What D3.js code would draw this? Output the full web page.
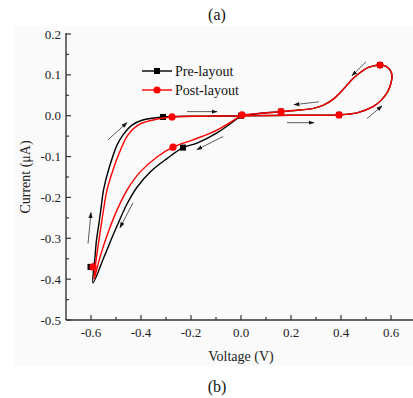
<!DOCTYPE html>
<html><head><meta charset="utf-8">
<script src="https://cdn.jsdelivr.net/npm/d3@7"></script>
<style>
html,body{margin:0;padding:0;background:#fff;}
svg{display:block;font-family:"Liberation Serif","Times New Roman",serif;}
</style></head>
<body>
<svg id="chart" width="413" height="398"></svg>
<script>
// ---- data (Voltage V, Current µA) ----
const loopV = [0.196,0.392,0.464,0.528,0.564,0.588,0.600,0.604,0.596,0.580,0.556,0.530,0.505,0.480,0.448,0.408,0.368,0.330,0.290,0.236,0.160,0.080];
const loopI = [0.001,0.002,0.007,0.022,0.040,0.060,0.080,0.097,0.112,0.121,0.124,0.122,0.117,0.107,0.091,0.064,0.040,0.026,0.018,0.014,0.010,0.006];
const preV = [0.000,-0.096,-0.176,-0.232,-0.296,-0.360,-0.416,-0.456,-0.496,-0.520,-0.548,-0.592,-0.584,-0.578,-0.568,-0.559,-0.550,-0.530,-0.496,-0.472,-0.436,-0.396,-0.312,-0.150,0.000].concat(loopV,[0.000]);
const preI = [0.000,-0.042,-0.067,-0.078,-0.105,-0.136,-0.175,-0.216,-0.270,-0.304,-0.346,-0.409,-0.346,-0.304,-0.263,-0.222,-0.182,-0.133,-0.072,-0.047,-0.023,-0.011,-0.003,-0.001,0.000].concat(loopI,[0.000]);
const postV = [0.004,-0.096,-0.192,-0.272,-0.336,-0.404,-0.456,-0.496,-0.528,-0.564,-0.588,-0.578,-0.568,-0.558,-0.536,-0.512,-0.482,-0.452,-0.412,-0.356,-0.276,-0.136,0.000].concat(loopV,[0.004]);
const postI = [0.002,-0.035,-0.059,-0.077,-0.101,-0.138,-0.182,-0.231,-0.280,-0.346,-0.400,-0.346,-0.304,-0.263,-0.182,-0.133,-0.084,-0.047,-0.023,-0.011,-0.003,-0.001,0.000].concat(loopI,[0.002]);
const preMarkV = [-0.312,-0.232,-0.602,0.160,0.000,0.392,0.556];
const preMarkI = [-0.003,-0.078,-0.370,0.010,0.000,0.002,0.124];
const postMarkV = [-0.276,-0.272,-0.592,0.160,0.004,0.392,0.556];
const postMarkI = [-0.003,-0.077,-0.370,0.010,0.002,0.002,0.124];
// direction arrows: start (v,i) -> end (v,i)
const arrowV0 = [-0.532,-0.612,-0.432,-0.072,-0.216,0.184,0.504,0.500,0.312];
const arrowI0 = [-0.059,-0.313,-0.213,-0.051,0.010,-0.017,-0.007,0.132,0.034];
const arrowV1 = [-0.456,-0.600,-0.484,-0.176,-0.096,0.292,0.564,0.444,0.212];
const arrowI1 = [-0.017,-0.237,-0.274,-0.083,0.010,-0.017,0.024,0.098,0.027];
const xTicks = [-0.6,-0.4,-0.2,0.0,0.2,0.4,0.6];
const xTickLabels = ["-0.6","-0.4","-0.2","0.0","0.2","0.4","0.6"];
const yTicks = [0.2,0.1,0.0,-0.1,-0.2,-0.3,-0.4,-0.5];
const yTickLabels = ["0.2","0.1","0.0","-0.1","-0.2","-0.3","-0.4","-0.5"];
const seriesNames = ["Pre-layout","Post-layout"];
const seriesColors = ["#000000","#ff0000"];

// ---- drawing ----
const svg = d3.select("#chart");
svg.append("rect").attr("x",15).attr("y",26).attr("width",398).attr("height",340).attr("fill","#fafafa");

const x = d3.scaleLinear().domain([-0.7,0.7]).range([66,416]);
const y = d3.scaleLinear().domain([-0.5,0.2]).range([320,34]);
const axisColor = "#333";

// x axis
const xMinor = d3.range(-7,8).map(d=>d/10).filter(d=>!xTicks.some(t=>Math.abs(t-d)<1e-9));
const gx = svg.append("g").attr("transform","translate(0,320)");
gx.append("line").attr("x1",66).attr("x2",413).attr("stroke",axisColor).attr("stroke-width",1.4);
gx.selectAll(".maj").data(xTicks).join("line").attr("x1",d=>x(d)).attr("x2",d=>x(d)).attr("y1",0).attr("y2",-5).attr("stroke",axisColor).attr("stroke-width",1.2);
gx.selectAll(".min").data(xMinor.filter(d=>x(d)>67&&x(d)<412)).join("line").attr("class","min").attr("x1",d=>x(d)).attr("x2",d=>x(d)).attr("y1",0).attr("y2",-3).attr("stroke",axisColor).attr("stroke-width",1.2);
gx.selectAll("text").data(xTicks).join("text").attr("x",d=>x(d)).attr("y",16.5).attr("text-anchor","middle").attr("font-size",13).attr("fill","#222").text((d,i)=>xTickLabels[i]);

// y axis
const yMinor = d3.range(-10,5).map(d=>d/20).filter(d=>!yTicks.some(t=>Math.abs(t-d)<1e-9));
const gy = svg.append("g").attr("transform","translate(66,0)");
gy.append("line").attr("y1",33).attr("y2",320).attr("stroke",axisColor).attr("stroke-width",1.4);
gy.selectAll(".maj").data(yTicks).join("line").attr("y1",d=>y(d)).attr("y2",d=>y(d)).attr("x1",0).attr("x2",5).attr("stroke",axisColor).attr("stroke-width",1.2);
gy.selectAll(".min").data(yMinor).join("line").attr("class","min").attr("y1",d=>y(d)).attr("y2",d=>y(d)).attr("x1",0).attr("x2",3).attr("stroke",axisColor).attr("stroke-width",1.2);
gy.selectAll("text").data(yTicks).join("text").attr("x",-5).attr("y",d=>y(d)+4.5).attr("text-anchor","end").attr("font-size",13).attr("fill","#222").text((d,i)=>yTickLabels[i]);

// labels
svg.append("text").attr("x",241).attr("y",361).attr("text-anchor","middle").attr("font-size",14).attr("fill","#222").text("Voltage (V)");
svg.append("text").attr("transform","translate(30,177) rotate(-90)").attr("text-anchor","middle").attr("font-size",14).attr("fill","#222").text("Current (\u03bcA)");
svg.append("text").attr("x",217).attr("y",20).attr("text-anchor","middle").attr("font-size",16).attr("fill","#111").text("(a)");
svg.append("text").attr("x",217).attr("y",392).attr("text-anchor","middle").attr("font-size",16).attr("fill","#111").text("(b)");

// arrows
const defs = svg.append("defs");
defs.append("marker").attr("id","ah").attr("viewBox","0 0 10 10").attr("refX",9).attr("refY",5)
  .attr("markerWidth",6).attr("markerHeight",6).attr("markerUnits","userSpaceOnUse").attr("orient","auto")
  .append("path").attr("d","M0,1.5 L10,5 L0,8.5 Z").attr("fill","#111");
svg.selectAll(".arrow").data(arrowV0).join("line").attr("class","arrow")
  .attr("x1",(d,i)=>x(arrowV0[i])).attr("y1",(d,i)=>y(arrowI0[i]))
  .attr("x2",(d,i)=>x(arrowV1[i])).attr("y2",(d,i)=>y(arrowI1[i]))
  .attr("stroke","#333").attr("stroke-width",0.8).attr("marker-end","url(#ah)");

const line = d3.line().x(d=>x(d[0])).y(d=>y(d[1])).curve(d3.curveCatmullRom.alpha(0.5));
const pre = preV.map((v,i)=>[v,preI[i]]);
const post = postV.map((v,i)=>[v,postI[i]]);

svg.append("path").attr("d",line(pre)).attr("fill","none").attr("stroke",seriesColors[0]).attr("stroke-width",1.4).attr("stroke-linejoin","round");
svg.selectAll(".pm").data(preMarkV).join("rect").attr("class","pm")
  .attr("x",(d,i)=>x(preMarkV[i])-3).attr("y",(d,i)=>y(preMarkI[i])-3).attr("width",6).attr("height",6).attr("fill",seriesColors[0]);
svg.append("path").attr("d",line(post)).attr("fill","none").attr("stroke",seriesColors[1]).attr("stroke-width",1.4).attr("stroke-linejoin","round");
svg.selectAll(".qm").data(postMarkV).join("circle").attr("class","qm")
  .attr("cx",(d,i)=>x(postMarkV[i])).attr("cy",(d,i)=>y(postMarkI[i])).attr("r",3.6).attr("fill",seriesColors[1]);

// legend
const lg = svg.append("g");
seriesNames.forEach((n,k)=>{
  const ly = 71 + k*19;
  lg.append("line").attr("x1",142).attr("x2",172).attr("y1",ly).attr("y2",ly).attr("stroke",seriesColors[k]).attr("stroke-width",1.4);
  if(k===0) lg.append("rect").attr("x",154).attr("y",ly-3).attr("width",6).attr("height",6).attr("fill",seriesColors[k]);
  else lg.append("circle").attr("cx",157).attr("cy",ly).attr("r",3.6).attr("fill",seriesColors[k]);
  lg.append("text").attr("x",175).attr("y",ly+5).attr("font-size",14).attr("fill","#111").text(n);
});
</script>
</body></html>
